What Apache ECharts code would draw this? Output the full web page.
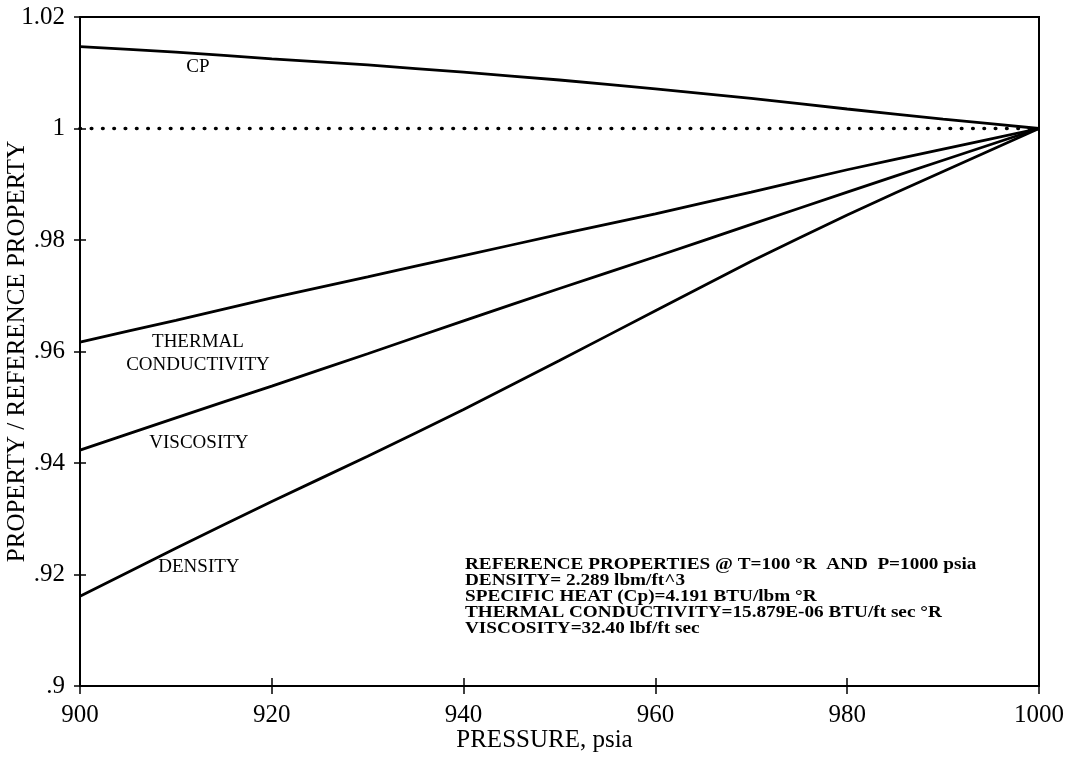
<!DOCTYPE html>
<html>
<head>
<meta charset="utf-8">
<title>Property ratios vs pressure</title>
<script src="https://cdn.jsdelivr.net/npm/echarts@6/dist/echarts.min.js"></script>
<style>
  html, body { margin: 0; padding: 0; background: #fff; }
  #chart { width: 1072px; height: 758px; }
</style>
</head>
<body>
<div id="chart"></div>
<script>
// Pressure stations, psia
const pressure = [900, 910, 920, 930, 940, 950, 960, 970, 980, 990, 1000];

// Property / reference property at each pressure
const cp        = [1.0147, 1.0137, 1.0125, 1.0114, 1.0101, 1.0087, 1.0071, 1.0054, 1.0035, 1.0017, 1.0];
const thermal   = [0.9617, 0.9656, 0.9696, 0.9734, 0.9772, 0.9810, 0.9847, 0.9886, 0.9926, 0.9963, 1.0];
const viscosity = [0.9423, 0.9481, 0.9538, 0.9596, 0.9655, 0.9713, 0.9770, 0.9828, 0.9886, 0.9943, 1.0];
const density   = [0.9161, 0.9247, 0.9331, 0.9412, 0.9496, 0.9584, 0.9673, 0.9762, 0.9845, 0.9923, 1.0];

// Unity reference line
const unityX = [900, 1000];
const unityY = [1, 1];

// Curve labels: text and anchor in data coordinates
const curveLabels = [
  { text: 'CP', p: 912.3, v: 1.0111 },
  { text: 'THERMAL\nCONDUCTIVITY', p: 912.3, v: 0.9596 },
  { text: 'VISCOSITY', p: 912.4, v: 0.94355 },
  { text: 'DENSITY', p: 912.4, v: 0.92133 }
];

// Reference-condition note
const noteLines = [
  'REFERENCE PROPERTIES @ T=100 \u00B0R  AND  P=1000 psia',
  'DENSITY= 2.289 lbm/ft^3',
  'SPECIFIC HEAT (Cp)=4.191 BTU/lbm \u00B0R',
  'THERMAL CONDUCTIVITY=15.879E-06 BTU/ft sec \u00B0R',
  'VISCOSITY=32.40 lbf/ft sec'
];

const xTitle = 'PRESSURE, psia';
const yTitle = 'PROPERTY / REFERENCE PROPERTY';

const FONT = "'Liberation Serif', 'Times New Roman', serif";

const zip = (xs, ys) => xs.map((x, i) => [x, ys[i]]);

function yFmt(v) {
  const s = String(+(+v).toFixed(2));
  return s.replace(/^0\./, '.');
}
const xFmt = v => String(Math.round(v));

const curveStyle = { color: '#000', width: 2.8 };

function curve(name, ys) {
  return {
    name, type: 'line', data: zip(pressure, ys),
    symbol: 'none', smooth: 0.15,
    lineStyle: curveStyle, z: 3
  };
}

const chart = echarts.init(document.getElementById('chart'), null, { renderer: 'canvas' });

chart.setOption({
  backgroundColor: '#fff',
  animation: false,
  grid: {
    left: 80, right: 33, top: 17, bottom: 72,
    outerBoundsMode: 'none', containLabel: false,
    show: true, borderColor: '#000', borderWidth: 2, backgroundColor: 'transparent'
  },
  xAxis: [
    {
      type: 'value', min: 900, max: 1000, interval: 20,
      name: xTitle, nameLocation: 'middle', nameGap: 42, nameMoveOverlap: false,
      nameTextStyle: { fontFamily: FONT, fontSize: 25, color: '#000', padding: [0, 30, 0, 0] },
      axisLine: { show: true, onZero: false, lineStyle: { color: '#000', width: 2 } },
      axisTick: { show: true, inside: false, length: 8, lineStyle: { color: '#000', width: 1.5 } },
      axisLabel: { fontFamily: FONT, fontSize: 25, color: '#000', margin: 17, formatter: xFmt },
      splitLine: { show: false }
    },
    {
      type: 'value', min: 900, max: 1000, interval: 20, position: 'bottom',
      axisLine: { show: false },
      axisTick: { show: true, inside: true, length: 8, lineStyle: { color: '#000', width: 1.5 } },
      axisLabel: { show: false },
      splitLine: { show: false }
    }
  ],
  yAxis: [
    {
      type: 'value', min: 0.9, max: 1.02, interval: 0.02,
      name: yTitle, nameLocation: 'middle', nameGap: 50, nameRotate: 90, nameMoveOverlap: false,
      nameTextStyle: { fontFamily: FONT, fontSize: 25, color: '#000' },
      axisLine: { show: true, onZero: false, lineStyle: { color: '#000', width: 2 } },
      axisTick: { show: true, inside: false, length: 6, lineStyle: { color: '#000', width: 1.5 } },
      axisLabel: { fontFamily: FONT, fontSize: 25, color: '#000', margin: 15, formatter: yFmt },
      splitLine: { show: false }
    },
    {
      type: 'value', min: 0.9, max: 1.02, interval: 0.02, position: 'left',
      axisLine: { show: false },
      axisTick: { show: true, inside: true, length: 6, lineStyle: { color: '#000', width: 1.5 } },
      axisLabel: { show: false },
      splitLine: { show: false }
    }
  ],
  series: [
    {
      name: 'unity', type: 'line', data: zip(unityX, unityY), symbol: 'none',
      lineStyle: { color: '#000', width: 3.6, type: [0.5, 10.8], cap: 'round' }, z: 2
    },
    curve('CP', cp),
    curve('THERMAL CONDUCTIVITY', thermal),
    curve('VISCOSITY', viscosity),
    curve('DENSITY', density),
    {
      name: 'labels', type: 'scatter', symbolSize: 0, silent: true, z: 4,
      itemStyle: { opacity: 1, color: '#000' },
      data: curveLabels.map(l => ({ value: [l.p, l.v], name: l.text })),
      label: {
        show: true, position: 'inside', formatter: p => p.name,
        fontFamily: FONT, fontSize: 19, color: '#000', opacity: 1,
        textBorderWidth: 0, lineHeight: 23, align: 'center'
      }
    }
  ],
  graphic: [
    {
      type: 'text', left: 465, top: 557, scaleX: 1.2, z: 10,
      style: {
        text: noteLines.join('\n'),
        font: 'bold 16px ' + FONT,
        fill: '#000', lineHeight: 16
      }
    }
  ]
});
</script>
</body>
</html>
